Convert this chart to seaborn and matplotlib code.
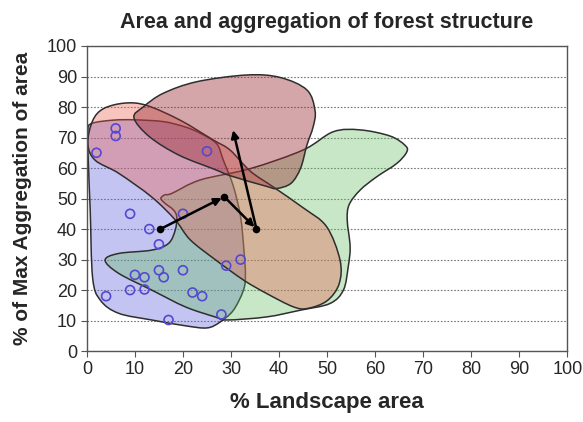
import numpy as np
import seaborn as sns
import matplotlib.pyplot as plt
from matplotlib.path import Path
from matplotlib.patches import PathPatch

# sample sites (open circles)
site_x = [2, 6, 6, 25, 9, 20, 13, 15, 32, 29, 10, 12, 15, 16, 20, 9, 12, 4, 22, 24, 28, 17]
site_y = [65, 73, 70.5, 65.5, 45, 45, 40, 35, 30, 28, 25, 24.2, 26.5, 24.2, 26.5, 20, 20.2, 18, 19.2, 18, 12, 10.2]

# trajectory of the structure over time
traj_x = [15.3, 28.6, 35.3, 30.3]
traj_y = [40, 50.6, 40, 73.3]

# hand-drawn envelopes, outline points
blue_x = [0.2, 1, 5.5, 10, 16, 20.4, 23.6, 27, 28.4, 30.5, 32, 32.7, 33, 32.6, 30.5, 27.7,
          25, 20.5, 13.5, 6.6, 2.8, 1.2, 0.7, 0.3]
blue_y = [72, 74.6, 75.7, 75.8, 75.2, 73.5, 71.4, 68, 62.6, 54, 44, 33, 25, 20, 13.4, 9.5,
          7.6, 8.3, 10.2, 12.4, 16.7, 24, 46, 62]

pink_x = [0.2, 1.2, 3.5, 8, 12.5, 19.4, 26.3, 29.8, 34, 38.8, 45, 49.9, 52.7, 52.5, 50,
          46, 43, 37.4, 32.6, 26.7, 21.5, 18.4, 13.5, 6.6, 1.7]
pink_y = [68, 75.5, 79.5, 81.3, 80.5, 75.7, 69.2, 65.9, 59, 53.8, 47, 40.8, 29.8, 22, 16.5,
          14, 14.5, 18.9, 23.3, 30, 36.5, 43, 50.5, 58.3, 62.6]

dusky_x = [9.8, 11.8, 15.9, 22.9, 33.3, 40.2, 45.8, 47.5, 47.1, 45.8, 44.5, 42.5, 39.5,
           37.4, 29.8, 26.7, 19.2, 13]
dusky_y = [76.5, 80.1, 84.5, 88.3, 90.5, 89.7, 85.6, 78.8, 73.5, 67.5, 60, 55, 53.3,
           54, 57.5, 59.5, 64.2, 70.3]

green_x = [3.8, 6.6, 13.5, 17, 18.4, 18.7, 18, 16.3, 15.4, 16.2, 17.7, 23.6, 34, 45, 51.3,
           56.9, 63.1, 66.2, 66.6, 64.5, 60.3, 56.9, 54.6, 54.2, 54.8, 54.4, 53.4, 50.6,
           44.4, 37.4, 29.1, 26.7, 20.5, 13.5, 6.6]
green_y = [29.8, 32, 33.1, 35.3, 39.7, 44, 46.3, 48.4, 50, 51.2, 51.7, 56.1, 59.8, 65.9, 71.9,
           72.5, 70.5, 67.5, 65.3, 61.5, 57.1, 52.8, 48, 42.9, 34.2, 27.6, 20, 15.6,
           13.4, 11.2, 10.2, 11.2, 14.5, 20, 25.5]

blob_colors = {
    "blue": (0.37, 0.37, 0.86, 0.36),
    "green": (0.38, 0.74, 0.38, 0.35),
    "pink": (0.93, 0.36, 0.30, 0.36),
    "dusky": (0.60, 0.17, 0.20, 0.42),
}


def smooth_outline(xs, ys):
    # closed bezier curve through the outline points (catmull-rom style handles)
    pts = np.column_stack([xs, ys]).astype(float)
    n = len(pts)
    verts = [pts[0]]
    codes = [Path.MOVETO]
    for i in range(n):
        p0, p1, p2, p3 = pts[i - 1], pts[i], pts[(i + 1) % n], pts[(i + 2) % n]
        verts += [p1 + (p2 - p0) / 6, p2 - (p3 - p1) / 6, p2]
        codes += [Path.CURVE4] * 3
    verts.append(pts[0])
    codes.append(Path.CLOSEPOLY)
    return Path(verts, codes)


sns.set_style("white")
plt.rcParams['font.family'] = ['Liberation Sans', 'DejaVu Sans']

fig, ax = plt.subplots(figsize=(5.83, 4.22), dpi=100)
fig.subplots_adjust(left=0.149, right=0.973, bottom=0.168, top=0.891)

ax.set_xlim(0, 100)
ax.set_ylim(0, 100)
ax.set_xticks(range(0, 101, 10))
ax.set_yticks(range(0, 101, 10))
ax.yaxis.grid(True, color='#777777', linestyle=(0, (1.5, 1.5)), linewidth=0.8)
ax.xaxis.grid(False)
ax.set_axisbelow(True)

for name, bx, by in [("blue", blue_x, blue_y), ("green", green_x, green_y),
                     ("pink", pink_x, pink_y), ("dusky", dusky_x, dusky_y)]:
    patch = PathPatch(smooth_outline(bx, by), facecolor=blob_colors[name],
                      edgecolor='#2e2e2e', linewidth=1.1, zorder=2)
    ax.add_patch(patch)

sns.scatterplot(x=site_x, y=site_y, ax=ax, marker='o', s=42, facecolor='none',
                edgecolor='#5548d0', linewidth=1.2, zorder=4)

# arrows between successive states
for i in range(len(traj_x) - 1):
    ax.annotate("", xy=(traj_x[i + 1], traj_y[i + 1]), xytext=(traj_x[i], traj_y[i]),
                arrowprops=dict(arrowstyle='-|>', color='black', lw=1.8,
                                mutation_scale=11, shrinkA=0, shrinkB=2),
                zorder=5)
sns.scatterplot(x=traj_x[:3], y=traj_y[:3], ax=ax, color='black', s=30,
                edgecolor='black', linewidth=0, zorder=6)

for side in ['left', 'right', 'top', 'bottom']:
    ax.spines[side].set_color('#555555')
    ax.spines[side].set_linewidth(1.0)
ax.tick_params(axis='both', direction='out', length=4, width=0.8, color='#555555',
               labelsize=13, pad=3, bottom=True, left=True)

ax.set_title("Area and aggregation of forest structure", fontsize=15.5, fontweight='bold',
             pad=13)
ax.set_xlabel("% Landscape area", fontsize=16, fontweight='bold', labelpad=10)
ax.set_ylabel("% of Max Aggregation of area", fontsize=15, fontweight='bold', labelpad=11)

plt.savefig('out.png', dpi=100)
plt.close()
